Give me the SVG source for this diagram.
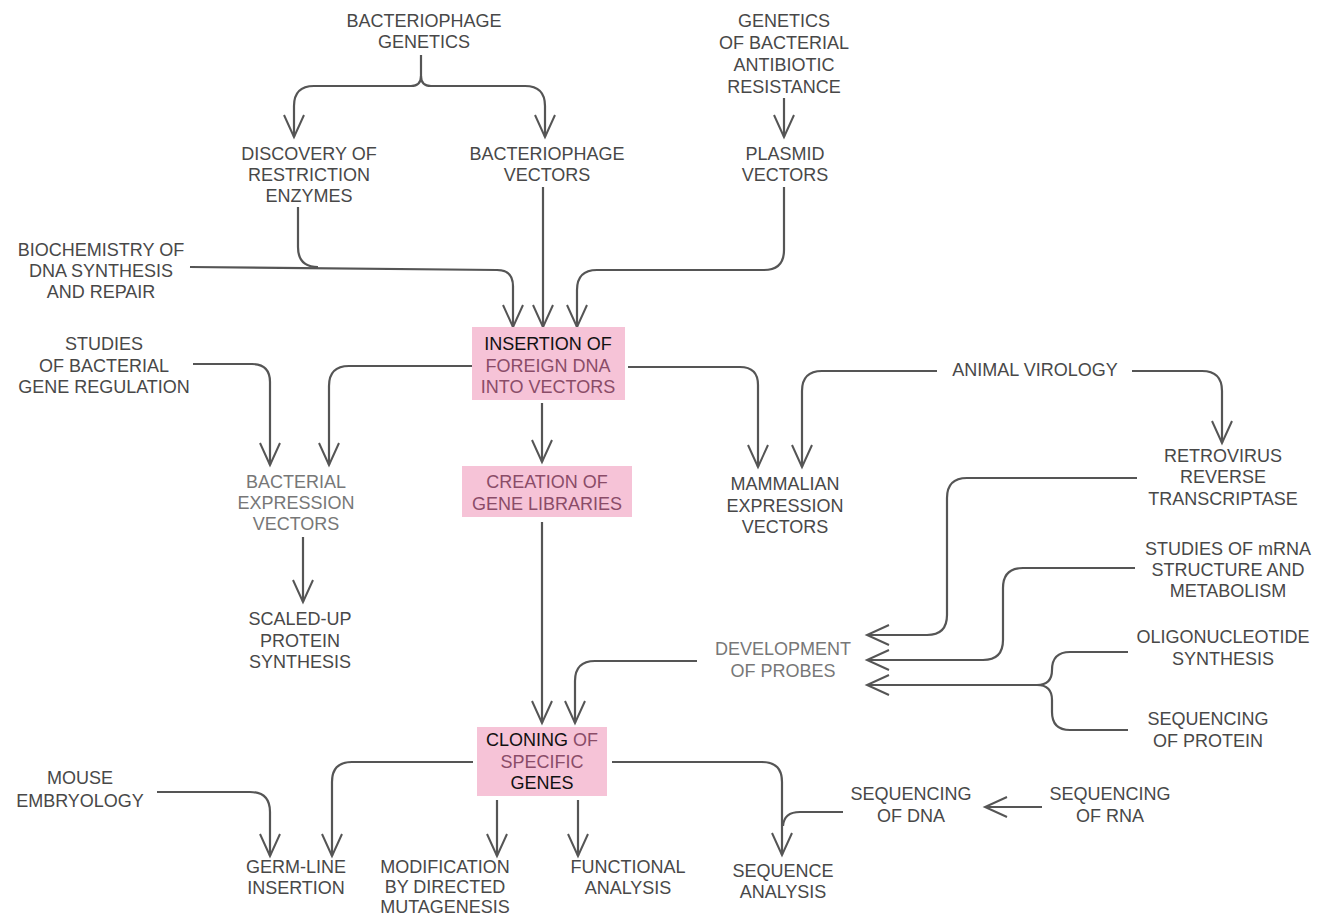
<svg xmlns="http://www.w3.org/2000/svg" width="1340" height="918" viewBox="0 0 1340 918">
  <style>
    text { font-family: "Liberation Sans", Arial, Helvetica, sans-serif; font-size: 18px; fill: #484848; text-anchor: middle; }
    .light { fill: #777; }
    .dark { fill: #111; }
    .mauve { fill: #8a4c68; }
    .box { fill: #f6c3d7; }
    .c path { fill: none; stroke: #555; stroke-width: 2.2; stroke-linecap: butt; stroke-linejoin: round; }
    .c path.a { marker-end: url(#ah); }
  </style>
  <defs>
    <marker id="ah" markerUnits="userSpaceOnUse" markerWidth="30" markerHeight="30" viewBox="-25 -15 30 30" refX="0" refY="0" orient="auto">
      <path d="M-22,-10 L0,0 L-22,10" fill="none" stroke="#555" stroke-width="2"/>
    </marker>
  </defs>
  <rect width="1340" height="918" fill="#fff"/>

  <!-- connectors -->
  <g class="c" id="connectors">
    <!-- bacteriophage genetics brace -->
    <path class="a" d="M421,55 V76 Q421,86 411,86 H314 Q294,86 294,106 V137"/>
    <path class="a" d="M421,76 Q421,86 431,86 H525 Q545,86 545,106 V137"/>
    <!-- antibiotic resistance to plasmid vectors -->
    <path class="a" d="M784,98 V137"/>
    <!-- restriction enzymes joining DNA synthesis line -->
    <path d="M298,207 V247 Q298,267 318,267"/>
    <path class="a" d="M190,267 L497,270 Q513,270 513,286 V327"/>
    <!-- bacteriophage vectors -->
    <path class="a" d="M543,187 V327"/>
    <!-- plasmid vectors -->
    <path class="a" d="M784,187 V250 Q784,270 764,270 H597 Q577,270 577,290 V327"/>
    <!-- insertion to bacterial expression vectors -->
    <path class="a" d="M472,366 H349 Q329,366 329,386 V465"/>
    <path class="a" d="M193,364 H252 Q270,364 270,382 V465"/>
    <!-- bacterial expression to scaled-up protein synthesis -->
    <path class="a" d="M303,537 V602"/>
    <!-- insertion to creation of gene libraries -->
    <path class="a" d="M542,403 V462"/>
    <!-- insertion to mammalian expression vectors -->
    <path class="a" d="M628,367 H740 Q758,367 758,385 V467"/>
    <path class="a" d="M937,371 H822 Q802,371 802,391 V467"/>
    <!-- animal virology to retrovirus -->
    <path class="a" d="M1132,371 H1202 Q1222,371 1222,391 V443"/>
    <!-- inputs to development of probes -->
    <path class="a" d="M1137,478 H967 Q947,478 947,498 V615 Q947,635 927,635 H867"/>
    <path class="a" d="M1135,568 H1023 Q1003,568 1003,588 V640 Q1003,660 983,660 H867"/>
    <path d="M1128,652 H1070 Q1052,652 1052,670 Q1052,685 1037,685"/>
    <path d="M1128,730 H1070 Q1052,730 1052,712 V700 Q1052,685 1037,685"/>
    <path class="a" d="M1040,685 H867"/>
    <!-- probes and libraries to cloning -->
    <path class="a" d="M697,661 H595 Q575,661 575,681 V723"/>
    <path class="a" d="M542,522 V723"/>
    <!-- cloning outputs -->
    <path class="a" d="M612,762 H762 Q782,762 782,782 V855"/>
    <path d="M843,812 H800 Q784,812 783,826"/>
    <path class="a" d="M1042,807 H985"/>
    <path class="a" d="M473,762 H352 Q332,762 332,782 V856"/>
    <path class="a" d="M157,792 H250 Q270,792 270,812 V856"/>
    <path class="a" d="M497,800 V856"/>
    <path class="a" d="M578,800 V856"/>
  </g>

  <g id="bacteriophage-genetics"><text x="424" y="27">BACTERIOPHAGE</text><text x="424" y="48">GENETICS</text></g>
  <g id="antibiotic-resistance"><text x="784" y="27">GENETICS</text><text x="784" y="49">OF BACTERIAL</text><text x="784" y="71">ANTIBIOTIC</text><text x="784" y="93">RESISTANCE</text></g>
  <g id="restriction-enzymes"><text x="309" y="160">DISCOVERY OF</text><text x="309" y="181">RESTRICTION</text><text x="309" y="202">ENZYMES</text></g>
  <g id="bacteriophage-vectors"><text x="547" y="160">BACTERIOPHAGE</text><text x="547" y="181">VECTORS</text></g>
  <g id="plasmid-vectors"><text x="785" y="160">PLASMID</text><text x="785" y="181">VECTORS</text></g>
  <g id="dna-synthesis"><text x="101" y="256">BIOCHEMISTRY OF</text><text x="101" y="277">DNA SYNTHESIS</text><text x="101" y="298">AND REPAIR</text></g>
  <g id="gene-regulation"><text x="104" y="350">STUDIES</text><text x="104" y="372">OF BACTERIAL</text><text x="104" y="393">GENE REGULATION</text></g>
  <g id="insertion">
    <rect class="box" x="472" y="327" width="153" height="73"/>
    <text x="548" y="350" class="dark">INSERTION OF</text>
    <text x="548" y="372" class="mauve">FOREIGN DNA</text>
    <text x="548" y="393" class="mauve">INTO VECTORS</text>
  </g>
  <g id="animal-virology"><text x="1035" y="376">ANIMAL VIROLOGY</text></g>
  <g id="bacterial-expression"><text x="296" y="488" class="light">BACTERIAL</text><text x="296" y="509" class="light">EXPRESSION</text><text x="296" y="530" class="light">VECTORS</text></g>
  <g id="gene-libraries">
    <rect class="box" x="462" y="466" width="170" height="51"/>
    <text x="547" y="488" class="mauve">CREATION OF</text>
    <text x="547" y="510" class="mauve">GENE LIBRARIES</text>
  </g>
  <g id="mammalian-expression"><text x="785" y="490">MAMMALIAN</text><text x="785" y="512">EXPRESSION</text><text x="785" y="533">VECTORS</text></g>
  <g id="reverse-transcriptase"><text x="1223" y="462">RETROVIRUS</text><text x="1223" y="483">REVERSE</text><text x="1223" y="505">TRANSCRIPTASE</text></g>
  <g id="mrna-studies"><text x="1228" y="555">STUDIES OF mRNA</text><text x="1228" y="576">STRUCTURE AND</text><text x="1228" y="597">METABOLISM</text></g>
  <g id="protein-synthesis"><text x="300" y="625">SCALED-UP</text><text x="300" y="647">PROTEIN</text><text x="300" y="668">SYNTHESIS</text></g>
  <g id="probes"><text x="783" y="655" class="light">DEVELOPMENT</text><text x="783" y="677" class="light">OF PROBES</text></g>
  <g id="oligonucleotide"><text x="1223" y="643">OLIGONUCLEOTIDE</text><text x="1223" y="665">SYNTHESIS</text></g>
  <g id="protein-sequencing"><text x="1208" y="725">SEQUENCING</text><text x="1208" y="747">OF PROTEIN</text></g>
  <g id="cloning">
    <rect class="box" x="477" y="727" width="130" height="69"/>
    <text x="542" y="746"><tspan class="dark">CLONING</tspan> <tspan class="mauve">OF</tspan></text>
    <text x="542" y="768" class="mauve">SPECIFIC</text>
    <text x="542" y="789" class="dark">GENES</text>
  </g>
  <g id="mouse-embryology"><text x="80" y="784">MOUSE</text><text x="80" y="807">EMBRYOLOGY</text></g>
  <g id="dna-sequencing"><text x="911" y="800">SEQUENCING</text><text x="911" y="822">OF DNA</text></g>
  <g id="rna-sequencing"><text x="1110" y="800">SEQUENCING</text><text x="1110" y="822">OF RNA</text></g>
  <g id="germ-line"><text x="296" y="873">GERM-LINE</text><text x="296" y="894">INSERTION</text></g>
  <g id="mutagenesis"><text x="445" y="873">MODIFICATION</text><text x="445" y="893">BY DIRECTED</text><text x="445" y="913">MUTAGENESIS</text></g>
  <g id="functional-analysis"><text x="628" y="873">FUNCTIONAL</text><text x="628" y="894">ANALYSIS</text></g>
  <g id="sequence-analysis"><text x="783" y="877">SEQUENCE</text><text x="783" y="898">ANALYSIS</text></g>
</svg>
